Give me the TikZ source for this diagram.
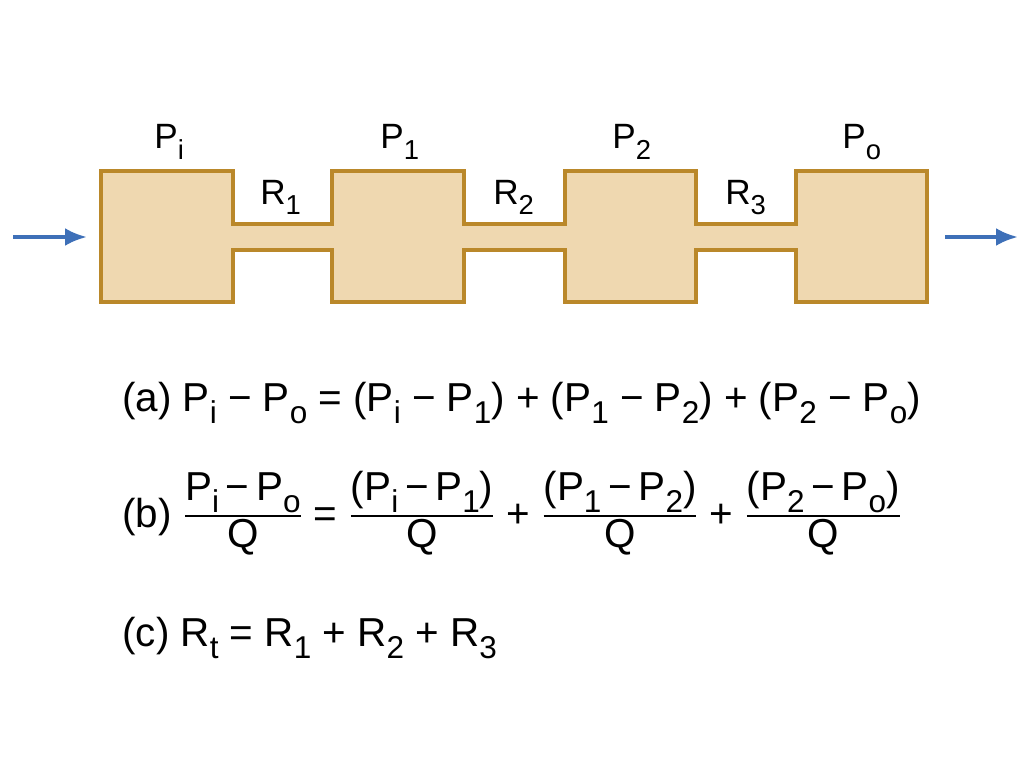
\documentclass[tikz,border=0pt]{standalone}
\usepackage{fontspec}
\setmainfont{Liberation Sans}
\usepackage{amsmath}
\usetikzlibrary{arrows.meta, positioning}
\definecolor{tubo}{RGB}{239,216,176}
\definecolor{borda}{RGB}{186,136,42}
\definecolor{seta}{RGB}{62,112,184}
\newcommand{\ind}[1]{\raisebox{-0.3em}{\scalebox{0.78}{#1}}}
\newcommand{\frc}[2]{$\genfrac{}{}{1.2pt}{}{\hbox{#1}}{\hbox{#2}}$}

\begin{document}
\begin{tikzpicture}[
    x=0.02cm, y=-0.02cm,
    >=Latex,
    rotulo/.style={font=\fontsize{20}{24}\selectfont, anchor=base west, inner sep=0pt},
    eq/.style={font=\fontsize{23}{27}\selectfont, anchor=base west, inner sep=0pt},
    fluxo/.style={-{Latex[length=0.44cm, width=0.36cm]}, draw=seta, fill=seta, line width=2.3pt}
]
    \useasboundingbox (0,0) rectangle (1024,767);

    % Camaras e tubos de ligacao
    \draw[fill=tubo, draw=borda, line width=2.3pt]
        (101,171) -- (233,171) -- (233,224) -- (332,224) -- (332,171) -- (464,171)
        -- (464,224) -- (565,224) -- (565,171) -- (696,171) -- (696,224) -- (796,224)
        -- (796,171) -- (927,171) -- (927,302) -- (796,302) -- (796,250) -- (696,250)
        -- (696,302) -- (565,302) -- (565,250) -- (464,250) -- (464,302) -- (332,302)
        -- (332,250) -- (233,250) -- (233,302) -- (101,302) -- cycle;

    % Rotulos
    \node[rotulo] (pi) at (154,149) {P\ind{i}};
    \node[rotulo] (p1) at (380,149) {P\ind{1}};
    \node[rotulo] (p2) at (612,149) {P\ind{2}};
    \node[rotulo] (po) at (842,149) {P\ind{o}};
    \node[rotulo] (r1) at (260,204) {R\ind{1}};
    \node[rotulo] (r2) at (493,204) {R\ind{2}};
    \node[rotulo] (r3) at (725,204) {R\ind{3}};

    % Setas de entrada e saida
    \coordinate (ent0) at (13,237);
    \coordinate (ent1) at (87,237);
    \coordinate (sai0) at (945,237);
    \coordinate (sai1) at (1018,237);
    \draw[fluxo] (ent0) -- (ent1);
    \draw[fluxo] (sai0) -- (sai1);

    % Equacoes
    \node[eq] (eqa) at (122,411) {(a) P\ind{i} − P\ind{o} = (P\ind{i} − P\ind{1}) + (P\ind{1} − P\ind{2}) + (P\ind{2} − P\ind{o})};
    \node[eq] (eqb) at (122,527) {(b) \frc{P\ind{i}\,−\,P\ind{o}}{Q} = \frc{(P\ind{i}\,−\,P\ind{1})}{Q} + \frc{(P\ind{1}\,−\,P\ind{2})}{Q} + \frc{(P\ind{2}\,−\,P\ind{o})}{Q}};
    \node[eq] (eqc) at (122,646) {(c) R\ind{t} = R\ind{1} + R\ind{2} + R\ind{3}};

\end{tikzpicture}
\end{document}
